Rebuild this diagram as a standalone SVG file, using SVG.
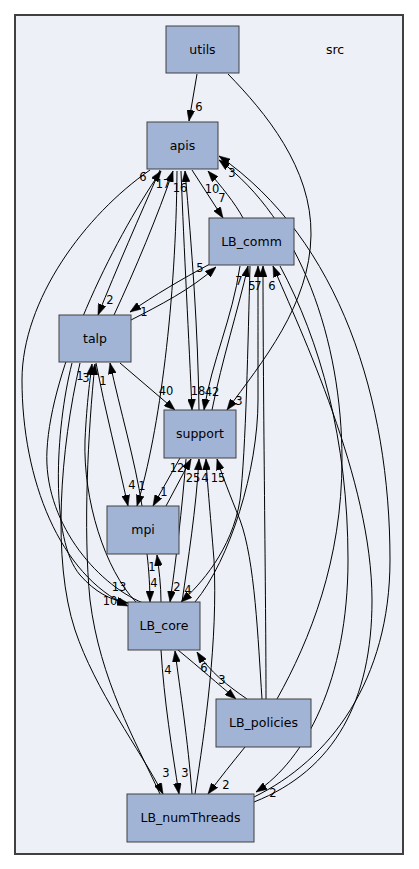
<svg xmlns="http://www.w3.org/2000/svg" width="419" height="869" viewBox="0 0 419 869">
<defs>
<marker id="a" markerWidth="11" markerHeight="8" refX="11" refY="4" orient="auto" markerUnits="userSpaceOnUse"><path d="M0,0 L11,4 L0,8 z" fill="#000" stroke="#000" stroke-width="0.5"/></marker>
<style>
.n rect{fill:#a2b4d6;stroke:#404040;stroke-width:1}
.n text{font-family:"DejaVu Sans",sans-serif;font-size:12.5px;text-anchor:middle;fill:#000}
#edges path{fill:none;stroke:#000;stroke-width:1;marker-end:url(#a)}
#edges text{font-family:"DejaVu Sans",sans-serif;font-size:11.5px;text-anchor:middle;fill:#000}
</style>
</defs>
<rect width="419" height="869" fill="#fff"/>
<g id="cluster_src">
<rect x="15" y="15" width="388" height="839" fill="#edf0f7" stroke="#404040" stroke-width="2"/>
<text x="335" y="54" font-family="DejaVu Sans, sans-serif" font-size="12.5" text-anchor="middle">src</text>
</g>
<g id="edges">
<path d="M197,74 L189,121"/><text x="199" y="111">6</text>
<path d="M228,74 C265,112 312,168 311,235 C310,305 262,362 227,410"/><text x="239" y="405">3</text>
<path d="M192,170 L223,218"/><text x="222" y="202">7</text>
<path d="M243,218 C235,203 221,186 208,171"/><text x="212" y="193">10</text>
<path d="M160,170 C140,215 116,270 98,315"/><text x="110" y="304">2</text>
<path d="M114,315 C135,270 158,215 173,171"/><text x="163" y="188">17</text>
<path d="M143,603 C95,583 43,520 47,450 C51,370 110,245 161,171"/><text x="143" y="181">6</text>
<path d="M199,410 C198,330 192,250 185,171"/><text x="180" y="192">16</text>
<path d="M277,699 C310,640 342,560 342,460 C342,340 300,220 219,160"/><text x="232" y="177">3</text>
<path d="M254,797 C330,760 390,680 390,560 C390,400 340,240 219,156"/>
<path d="M181,171 C184,250 189,340 192,410"/><text x="198" y="395">18</text>
<path d="M240,266 C232,320 212,360 204,410"/><text x="212" y="396">42</text>
<path d="M120,363 L175,410"/><text x="166" y="395">40</text>
<path d="M150,170 C85,215 22,300 22,380 C22,480 60,575 128,606"/><text x="110" y="605">10</text>
<path d="M72,363 C55,430 50,540 80,575 C95,592 110,600 128,603"/><text x="119" y="591">13</text>
<path d="M210,264 C180,280 155,295 130,312"/><text x="144" y="316">1</text>
<path d="M131,320 C160,305 190,290 216,267"/><text x="200" y="272">5</text>
<path d="M212,410 C222,360 238,310 248,266"/><text x="239" y="285">7</text>
<path d="M195,602 C230,560 258,470 258,400 C258,340 258,300 258,266"/><text x="252" y="290">5</text>
<path d="M266,699 C266,600 263,400 263,266"/><text x="258" y="290">7</text>
<path d="M254,802 C335,770 372,700 372,600 C372,480 300,330 273,266"/><text x="272" y="290">6</text>
<path d="M280,266 C320,340 348,440 348,560 C348,680 305,760 256,792"/><text x="273" y="797">2</text>
<path d="M96,363 C105,410 118,460 128,506"/><text x="132" y="489">4</text>
<path d="M177,171 C176,300 160,430 137,506"/><text x="142" y="490">1</text>
<path d="M180,458 L153,506"/><text x="164" y="496">1</text>
<path d="M142,506 C135,460 120,410 110,363"/><text x="103" y="385">1</text>
<path d="M136,602 C105,570 83,500 85,440 C87,400 90,380 92,364"/><text x="80" y="380">1</text>
<path d="M160,794 C135,740 100,680 90,600 C83,530 88,430 95,364"/><text x="86" y="382">3</text>
<path d="M166,506 L191,459"/><text x="177" y="472">12</text>
<path d="M182,602 C188,560 196,510 199,459"/><text x="193" y="482">25</text>
<path d="M195,794 C205,730 218,640 214,560 C210,510 207,480 206,459"/><text x="205" y="482">4</text>
<path d="M262,699 C258,640 255,560 240,520 C230,495 222,475 217,459"/><text x="218" y="482">15</text>
<path d="M147,554 C149,570 150,590 150,602"/><text x="154" y="587">4</text>
<path d="M161,602 C161,585 159,570 157,555"/><text x="152" y="571">1</text>
<path d="M186,459 C182,510 176,560 170,602"/><text x="177" y="591">2</text>
<path d="M250,266 C248,340 246,450 240,500 C232,550 200,585 181,602"/><text x="188" y="594">4</text>
<path d="M178,650 C200,668 218,684 236,699"/><text x="222" y="684">3</text>
<path d="M247,699 C228,686 210,672 197,652"/><text x="204" y="672">6</text>
<path d="M245,747 C232,763 220,778 208,794"/><text x="226" y="789">2</text>
<path d="M80,363 C60,450 52,560 75,630 C95,690 140,750 163,794"/><text x="166" y="777">3</text>
<path d="M161,650 C164,700 172,750 179,794"/><text x="185" y="777">3</text>
<path d="M192,794 C188,740 180,690 175,651"/><text x="168" y="674">4</text>
</g>
<g id="utils" class="n"><rect x="166" y="26" width="73" height="47"/><text x="202.5" y="54">utils</text></g>
<g id="apis" class="n"><rect x="147" y="122" width="71" height="47"/><text x="182.5" y="150">apis</text></g>
<g id="LB_comm" class="n"><rect x="209" y="218" width="85" height="47"/><text x="251.5" y="246">LB_comm</text></g>
<g id="talp" class="n"><rect x="59" y="315" width="72" height="47"/><text x="95" y="343">talp</text></g>
<g id="support" class="n"><rect x="164" y="410" width="72" height="48"/><text x="200" y="438">support</text></g>
<g id="mpi" class="n"><rect x="107" y="506" width="72" height="48"/><text x="143" y="534">mpi</text></g>
<g id="LB_core" class="n"><rect x="128" y="602" width="72" height="48"/><text x="164" y="630">LB_core</text></g>
<g id="LB_policies" class="n"><rect x="216" y="699" width="95" height="48"/><text x="263.5" y="727">LB_policies</text></g>
<g id="LB_numThreads" class="n"><rect x="127" y="794" width="127" height="48"/><text x="190.5" y="822">LB_numThreads</text></g>
</svg>
